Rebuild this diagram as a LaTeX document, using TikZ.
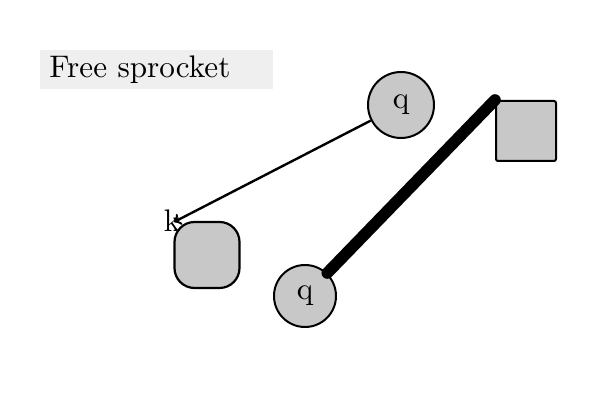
\documentclass[tikz,border=0pt]{standalone}
\usetikzlibrary{calc}
\definecolor{nodegray}{HTML}{C8C8C8}
\definecolor{titlegray}{HTML}{EFEFEF}
\newcommand{\bigtxt}[1]{\scalebox{1.56}{#1}}
\tikzset{
  circnode/.style={circle, draw=black, line width=1pt, fill=nodegray, inner sep=0pt},
  sqnode/.style={rectangle, draw=black, line width=1pt, fill=nodegray, rounded corners=1pt, inner sep=0pt},
  rsqnode/.style={rectangle, draw=black, line width=1.1pt, fill=nodegray, rounded corners=10pt, inner sep=0pt},
  thinlink/.style={draw=black, line width=1.2pt},
  thicklink/.style={draw=black, line width=5.8pt, line cap=round},
}
\begin{document}
\begin{tikzpicture}[x=0.5pt, y=-0.5pt]
\useasboundingbox (0,0) rectangle (600,400);
% title
\node[fill=titlegray, minimum width=116.5pt, minimum height=19.5pt, inner sep=0pt, anchor=north west] (title) at (40,50) {};
\node[anchor=west, inner sep=0pt] (titletext) at (49,70) {\bigtxt{Free sprocket}};
% shapes
\node[circnode, minimum size=33pt] (q1) at (401,105) {\bigtxt{q}};
\node[sqnode, minimum width=30pt, minimum height=30pt] (sq) at (526,131) {};
\node[rsqnode, minimum width=32.5pt, minimum height=33pt] (rsq) at (207,255) {};
\node[circnode, minimum size=31pt] (q2) at (305,296) {\bigtxt{q}};
% endpoints
\coordinate (kc) at (174,222);
\coordinate (sc) at (495,100);
\node[inner sep=0pt] (k) at (172,221) {\bigtxt{k}};
% links
\draw[thinlink, ->] (q1) -- (kc);
\draw[thicklink] (q2) -- (sc);
\end{tikzpicture}
\end{document}
